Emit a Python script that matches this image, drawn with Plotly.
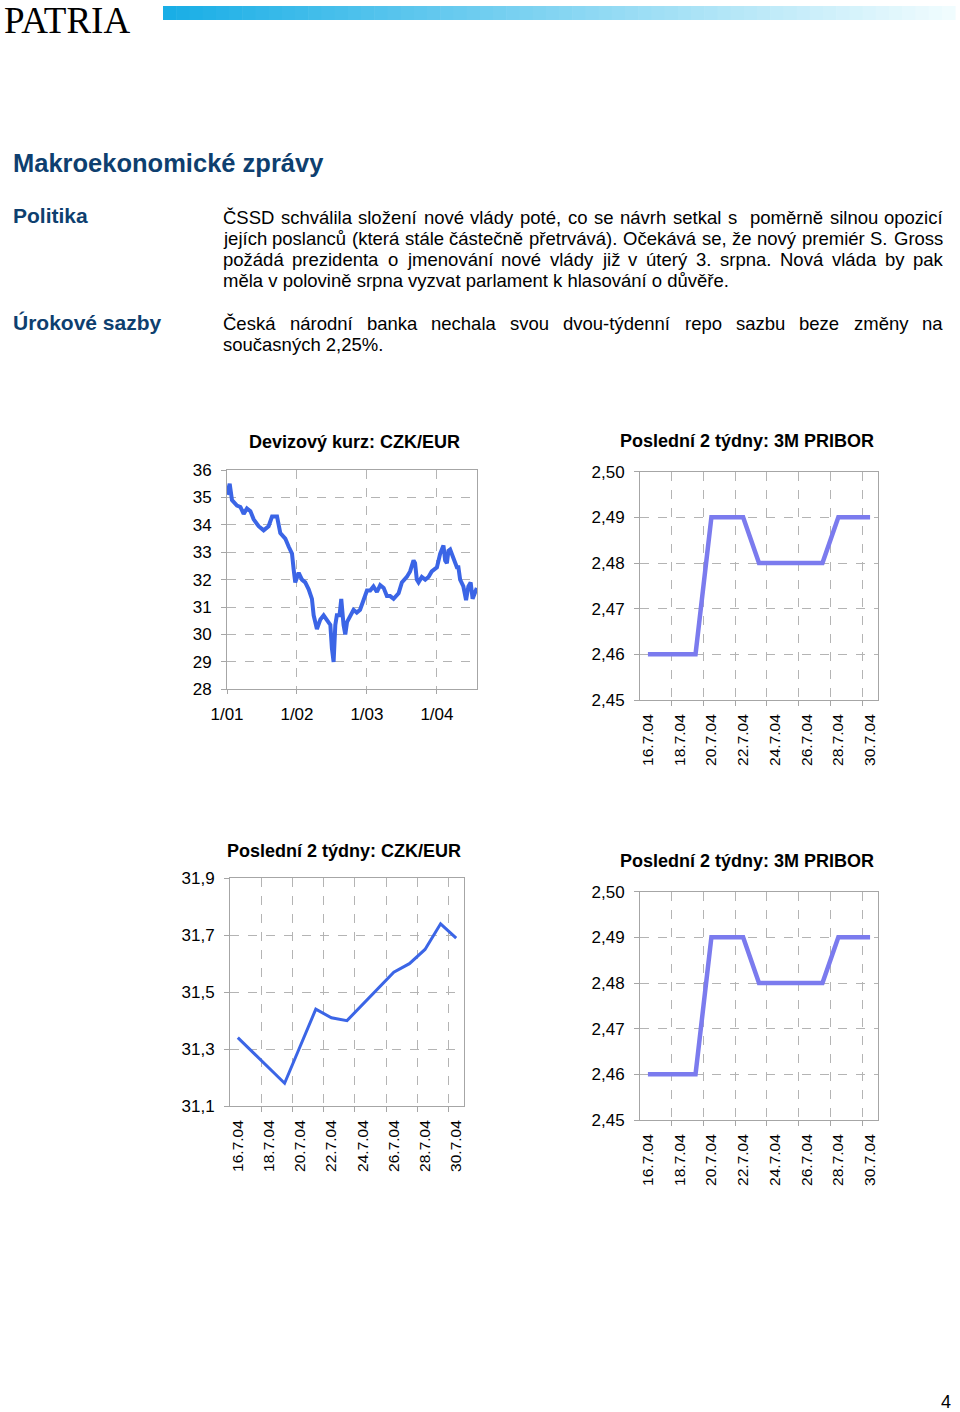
import plotly.graph_objects as go

W, H = 960, 1412
FONT = 'Liberation Sans, Arial, sans-serif'
NAVY = '#0e3f6f'
GRID = '#b4b4b4'
AXLINE = '#a6a6a6'
KURZ_BLUE = '#3b65e6'
PRIBOR_BLUE = '#7b7bee'

# --- Devizovy kurz CZK/EUR ---
kurz_dny = [
    '2001-01-01', '2001-01-15', '2001-01-27', '2001-02-22', '2001-03-12', '2001-03-29', '2001-04-15',
    '2001-05-03', '2001-05-20', '2001-06-15', '2001-07-11', '2001-08-06', '2001-08-24', '2001-09-19',
    '2001-10-06', '2001-11-01', '2001-11-19', '2001-12-06', '2001-12-15', '2001-12-23',
    '2002-01-10', '2002-01-27', '2002-02-13', '2002-03-03', '2002-03-20', '2002-03-29', '2002-04-15',
    '2002-05-03', '2002-05-20', '2002-06-06', '2002-06-24', '2002-07-02', '2002-07-11', '2002-07-20',
    '2002-07-28', '2002-08-11', '2002-08-20', '2002-09-01', '2002-09-10', '2002-09-19', '2002-10-06',
    '2002-10-23', '2002-11-09', '2002-11-26', '2002-12-14',
    '2003-01-01', '2003-01-18', '2003-02-04', '2003-02-22', '2003-03-11', '2003-03-29', '2003-04-15',
    '2003-05-02', '2003-05-20', '2003-06-15', '2003-07-02', '2003-07-28', '2003-08-14', '2003-09-01',
    '2003-09-09', '2003-09-18', '2003-09-27', '2003-10-14', '2003-11-01', '2003-11-18', '2003-12-05',
    '2004-01-01', '2004-01-09', '2004-01-18', '2004-02-04', '2004-02-13', '2004-02-22', '2004-03-01',
    '2004-03-10', '2004-03-27', '2004-04-14', '2004-04-22', '2004-05-01', '2004-05-18', '2004-06-01',
    '2004-06-13', '2004-06-25', '2004-07-05', '2004-07-18', '2004-07-27']
kurz_hodnoty = [
    35.1, 35.5, 34.9, 34.7, 34.65, 34.4, 34.6, 34.5, 34.2, 33.95, 33.8, 33.95, 34.3, 34.3,
    33.7, 33.5, 33.2, 32.95, 32.35, 31.9,
    32.25, 32.0, 31.9, 31.65, 31.3, 30.7, 30.2, 30.55, 30.7, 30.5, 30.35, 29.5, 29.0, 30.35,
    30.7, 30.7, 31.3, 30.35, 30.0, 30.45, 30.7, 30.9, 30.8, 30.9, 31.25,
    31.6, 31.6, 31.75, 31.55, 31.8, 31.7, 31.4, 31.4, 31.3, 31.5, 31.9, 32.1, 32.3, 32.7,
    32.6, 32.0, 31.9, 32.1, 32.0, 32.1, 32.3,
    32.45, 32.7, 32.95, 33.25, 32.7, 32.6, 33.05, 33.1, 32.8, 32.45, 32.45, 32.0, 31.75, 31.25,
    31.75, 31.9, 31.3, 31.6, 31.7]
kurz_ticks = ['2001-01-01', '2002-01-01', '2003-01-01', '2004-01-01']
kurz_ticktext = ['1/01', '1/02', '1/03', '1/04']
kurz_yticks = [28, 29, 30, 31, 32, 33, 34, 35, 36]

# --- posledni 2 tydny ---
czk_dny = ['2004-07-16', '2004-07-19', '2004-07-21', '2004-07-22', '2004-07-23',
           '2004-07-26', '2004-07-27', '2004-07-28', '2004-07-29', '2004-07-30']
czk_hodnoty = [31.34, 31.18, 31.44, 31.41, 31.40, 31.57, 31.60, 31.65, 31.74, 31.69]
czk_yticks = [31.1, 31.3, 31.5, 31.7, 31.9]

pribor_dny = ['2004-07-16', '2004-07-19', '2004-07-20', '2004-07-21', '2004-07-22', '2004-07-23',
              '2004-07-26', '2004-07-27', '2004-07-28', '2004-07-29', '2004-07-30']
pribor_hodnoty = [2.46, 2.46, 2.49, 2.49, 2.49, 2.48, 2.48, 2.48, 2.49, 2.49, 2.49]
pribor_yticks = [2.45, 2.46, 2.47, 2.48, 2.49, 2.50]

den_ticks = ['2004-07-16', '2004-07-18', '2004-07-20', '2004-07-22',
             '2004-07-24', '2004-07-26', '2004-07-28', '2004-07-30']
den_ticktext = ['16.7.04', '18.7.04', '20.7.04', '22.7.04', '24.7.04', '26.7.04', '28.7.04', '30.7.04']
den_grid = ['2004-07-17 12:00', '2004-07-19 12:00', '2004-07-21 12:00', '2004-07-23 12:00',
            '2004-07-25 12:00', '2004-07-27 12:00', '2004-07-29 12:00']
den_range = ['2004-07-15 12:00', '2004-07-30 12:00']

# --- texty ---
politika = [
    ('ČSSD schválila složení nové vlády poté, co se návrh setkal s  poměrně silnou opozicí', True),
    ('jejích poslanců (která stále částečně přetrvává). Očekává se, že nový premiér S. Gross', True),
    ('požádá prezidenta o jmenování nové vlády již v úterý 3. srpna. Nová vláda by pak', True),
    ('měla v polovině srpna vyzvat parlament k hlasování o důvěře.', False),
]
sazby = [
    ('Česká národní banka nechala svou dvou-týdenní repo sazbu beze změny na', True),
    ('současných 2,25%.', False),
]


def px(x):
    return x / W


def py(y):
    return 1 - y / H


# Arial / Liberation Sans sirky znaku (na 1000 jednotek)
SIRKY = {}
for ch in 'abdeghnopquáéěňóúů0123456789':
    SIRKY[ch] = 556
for ch in 'cksvxyzčšýžJ':
    SIRKY[ch] = 500
for ch in 'ijl':
    SIRKY[ch] = 222
for ch in 'ftí .,:':
    SIRKY[ch] = 278
for ch in 'rř':
    SIRKY[ch] = 333
for ch in '()-':
    SIRKY[ch] = 333
for ch in 'ABEKPSVXYŠ':
    SIRKY[ch] = 667
for ch in 'CDHNRUČÚ':
    SIRKY[ch] = 722
for ch in 'FTZ':
    SIRKY[ch] = 611
for ch in 'GOQ':
    SIRKY[ch] = 778
SIRKY.update({'I': 278, 'L': 556, 'M': 833, 'W': 944, 'm': 833, 'w': 722, '%': 889})


def sirka(s, size):
    return sum(SIRKY.get(ch, 556) for ch in s) * size / 1000


annotations = []


def text(x, base, s, size, color='black', bold=False, xanchor='left', family=FONT, box_h=None):
    a = dict(x=px(x), y=py(base - 0.34 * size), xref='paper', yref='paper',
             text='<b>%s</b>' % s if bold else s, showarrow=False,
             xanchor=xanchor, yanchor='middle', borderpad=0,
             font=dict(family=family, size=size, color=color))
    if box_h:
        a.update(height=box_h, valign='middle')
    annotations.append(a)


def odstavec(radky, base0, left=222, right=942, size=18.5, leading=21):
    for i, (radek, zarovnat) in enumerate(radky):
        base = base0 + i * leading
        if not zarovnat:
            text(left, base, radek, size)
            continue
        slova = radek.split(' ')
        celkem = sum(sirka(w, size) for w in slova)
        mezera = (right - left - celkem) / (len(slova) - 1)
        x = left
        for w in slova:
            if w:
                text(x, base, w, size)
            x += sirka(w, size) + mezera


fig = go.Figure()

fig.add_trace(go.Scatter(x=kurz_dny, y=kurz_hodnoty, mode='lines', xaxis='x', yaxis='y',
                         line=dict(color=KURZ_BLUE, width=4), showlegend=False))
fig.add_trace(go.Scatter(x=pribor_dny, y=pribor_hodnoty, mode='lines', xaxis='x2', yaxis='y2',
                         line=dict(color=PRIBOR_BLUE, width=4.5), showlegend=False))
fig.add_trace(go.Scatter(x=czk_dny, y=czk_hodnoty, mode='lines', xaxis='x3', yaxis='y3',
                         line=dict(color=KURZ_BLUE, width=3), showlegend=False))
fig.add_trace(go.Scatter(x=pribor_dny, y=pribor_hodnoty, mode='lines', xaxis='x4', yaxis='y4',
                         line=dict(color=PRIBOR_BLUE, width=4.5), showlegend=False))

box = dict(showline=True, linecolor=AXLINE, linewidth=1, mirror=True, zeroline=False,
           gridcolor=GRID, griddash='dash', gridwidth=1, automargin=False,
           tickfont=dict(family=FONT, size=17, color='black'))


def yosa(domain, rng, vals, fmt, anchor):
    return dict(box, domain=domain, range=rng, tickvals=vals, tickformat=fmt, anchor=anchor,
                showgrid=True, ticks='outside', ticklen=5, tickcolor=AXLINE, ticklabelstandoff=6)


def dny_osa(domain, anchor):
    return dict(box, domain=domain, anchor=anchor, type='date', range=den_range,
                tickvals=den_ticks, ticktext=den_ticktext, tickangle=-90, showgrid=False,
                ticks='', ticklabelstandoff=7, tickfont=dict(family=FONT, size=15.5, color='black'),
                minor=dict(tickvals=den_grid, showgrid=True, gridcolor=GRID, griddash='dash',
                           ticks='outside', ticklen=5, tickcolor=AXLINE))


fig.update_layout(
    xaxis=dict(box, domain=[px(227), px(477)], anchor='y', type='date',
               range=['2001-01-01', '2004-07-28'], tickvals=kurz_ticks, ticktext=kurz_ticktext,
               showgrid=True, ticks='outside', ticklen=4, tickcolor=AXLINE, ticklabelstandoff=5),
    yaxis=yosa([py(689.3), py(470)], [28, 36], kurz_yticks, 'd', 'x'),
    xaxis2=dny_osa([px(640), px(878)], 'y2'),
    yaxis2=yosa([py(700), py(471.7)], [2.45, 2.50], pribor_yticks, '.2f', 'x2'),
    xaxis3=dny_osa([px(230), px(464)], 'y3'),
    yaxis3=yosa([py(1106), py(878.3)], [31.1, 31.9], czk_yticks, '.1f', 'x3'),
    xaxis4=dny_osa([px(640), px(878)], 'y4'),
    yaxis4=yosa([py(1120), py(891.7)], [2.45, 2.50], pribor_yticks, '.2f', 'x4'),
)

# zahlavi: logo a prechodovy pruh
text(3, 33.5, 'PATRIA', 37, family='Liberation Serif, Times New Roman, serif')
shapes = []
n = 60
x0, x1 = 163, 955
c0, c1 = (25, 174, 230), (240, 252, 254)
for i in range(n):
    f = i / (n - 1)
    col = 'rgb(%d,%d,%d)' % tuple(round(a + (b - a) * f) for a, b in zip(c0, c1))
    shapes.append(dict(type='rect', xref='paper', yref='paper', line=dict(width=0), fillcolor=col,
                       x0=px(x0 + (x1 - x0) * i / n), x1=px(x0 + (x1 - x0) * (i + 1) / n + 0.6),
                       y0=py(20), y1=py(6), layer='below'))

text(12, 171.7, 'Makroekonomické zprávy', 25.5, NAVY, bold=True)
text(12, 223, 'Politika', 21, NAVY, bold=True)
text(12, 330, 'Úrokové sazby', 21, NAVY, bold=True)
odstavec(politika, 223.3)
odstavec(sazby, 330)

text(354.7, 448.3, 'Devizový kurz: CZK/EUR', 18, bold=True, xanchor='center')
text(747, 447.3, 'Poslední 2 týdny: 3M PRIBOR', 18, bold=True, xanchor='center')
text(344, 856.7, 'Poslední 2 týdny: CZK/EUR', 18, bold=True, xanchor='center')
text(747, 867.3, 'Poslední 2 týdny: 3M PRIBOR', 18, bold=True, xanchor='center')
text(952, 1408, '4', 18, xanchor='right', box_h=16)

fig.update_layout(
    width=W, height=H, margin=dict(l=0, r=0, t=0, b=0, autoexpand=False),
    paper_bgcolor='white', plot_bgcolor='white', separators=', ',
    font=dict(family=FONT, size=17, color='black'),
    annotations=annotations, shapes=shapes, showlegend=False)

fig.write_html('out.html', config={'displayModeBar': False},
               post_script="document.body.style.margin='0px';")
